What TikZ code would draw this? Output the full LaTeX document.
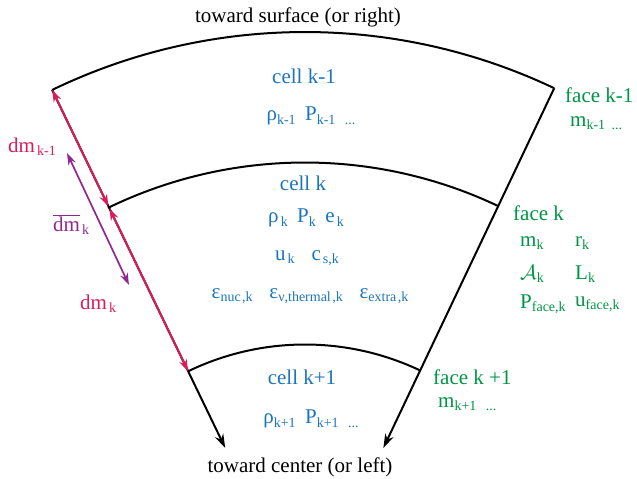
\documentclass[tikz,border=0pt]{standalone}
\usepackage{fontspec}
\setmainfont{Liberation Serif}
\usetikzlibrary{arrows.meta,calc}
\definecolor{cblue}{RGB}{27,117,188}
\definecolor{cgreen}{RGB}{0,148,68}
\definecolor{cpink}{RGB}{218,28,92}
\definecolor{cpurple}{RGB}{146,39,143}
\newcommand\sbx[1]{\raisebox{-0.35ex}{\fontsize{14}{14}\selectfont #1}}
\begin{document}
\begin{tikzpicture}[x=1pt,y=1pt,
  every node/.style={inner sep=0pt,font=\fontsize{21}{24}\selectfont},
  edge/.style={line width=2pt,black},
  blk/.style={text=black},
  blu/.style={text=cblue},
  grn/.style={text=cgreen,anchor=west},
  dmlabel/.style={text=cpink,anchor=west},
  darrow/.style={line width=2pt,cpink,{Stealth[length=12pt,width=8pt]}-{Stealth[length=12pt,width=8pt]}},
  parrow/.style={line width=1.7pt,cpurple,{Stealth[length=12pt,width=8pt]}-{Stealth[length=12pt,width=8pt]}},
  tail/.style={edge,-{Stealth[length=14pt,width=9pt]}}]
\useasboundingbox (0,0) rectangle (637,479);
\coordinate (C) at (305,-134);
\coordinate (L0) at ($(C)+(115.8:581)$);
\coordinate (R0) at ($(C)+(64.6:581)$);
\coordinate (L1) at ($(C)+(115.8:450.5)$);
\coordinate (R1) at ($(C)+(64.6:450.5)$);
\coordinate (L2) at ($(C)+(115.8:268.5)$);
\coordinate (R2) at ($(C)+(64.6:268.5)$);
\coordinate (LE) at ($(C)+(115.8:183.3)$);
\coordinate (RE) at ($(C)+(64.6:182.7)$);
\coordinate (P1) at (67,326);
\coordinate (P2) at (129,194);
% arcs
\draw[edge] (L0) arc[start angle=115.8,end angle=64.6,radius=581];
\draw[edge] (L1) arc[start angle=115.8,end angle=64.6,radius=450.5];
\draw[edge] (L2) arc[start angle=115.8,end angle=64.6,radius=268.5];
% radial lines
\draw[tail] (L0) -- (LE);
\draw[tail] (R0) -- (RE);
% mass arrows
\draw[darrow,shorten >=1pt] (L0) -- (L1);
\draw[darrow,shorten <=1pt] (L1) -- (L2);
\draw[parrow] (P1) -- (P2);
% labels
\node[blk] (top) at (298,462) {toward surface (or right)};
\node[blk] (bot) at (300,12) {toward center (or left)};
\node[blu] (ckm1) at (304,403) {cell k-1};
\node[blu] (rkm1) at (311,363) {ρ\sbx{k-1}\hspace{0.45em}P\sbx{k-1}\hspace{0.45em}\sbx{...}};
\node[blu] (ck) at (303,296) {cell k};
\node[blu] (rk1) at (306,261) {ρ\hspace{0.1em}\sbx{k}\hspace{0.45em}P\sbx{k}\hspace{0.45em}e\hspace{0.1em}\sbx{k}};
\node[blu] (rk2) at (307,221) {u\hspace{0.1em}\sbx{k}\hspace{0.8em}c\hspace{0.1em}\sbx{s,k}};
\node[blu] (rk3) at (310,183) {ε\sbx{nuc\hspace{0.1em},k}\hspace{0.8em}ε\sbx{ν,thermal\hspace{0.1em},k}\hspace{0.8em}ε\sbx{extra\hspace{0.1em},k}};
\node[blu] (ckp1) at (302,102) {cell k+1};
\node[blu] (rkp1) at (311,60) {ρ\sbx{k+1}\hspace{0.45em}P\sbx{k+1}\hspace{0.45em}\sbx{...}};
\node[grn] (fkm1) at (565,384) {face k-1};
\node[grn] (mkm1) at (570,356) {m\sbx{k-1}\hspace{0.3em}\sbx{...}};
\node[grn] (fk) at (513,266) {face k};
\node[grn] (mk) at (520,236) {m\sbx{k}};
\node[grn] (rk) at (575,236) {r\sbx{k}};
\node[grn] (ak) at (520,205) {$\mathcal{A}$\sbx{k}};
\node[grn] (lk) at (575,205) {L\sbx{k}};
\node[grn] (pf) at (520,175) {P\sbx{face,k}};
\node[grn] (uf) at (575,175) {u\sbx{face,k}};
\node[grn] (fkp1) at (433,102) {face k +1};
\node[grn] (mkp1) at (438,75) {m\sbx{k+1}\hspace{0.45em}\sbx{...}};
\node[dmlabel] (dmkm1) at (8,332) {dm\hspace{0.1em}\sbx{k-1}};
\node[anchor=west,text=cpurple] (dmbar) at (53,254) {$\overline{\hbox{dm}}$\hspace{0.1em}\sbx{k}};
\node[dmlabel] (dmk) at (80,175) {dm\hspace{0.1em}\sbx{k}};
\end{tikzpicture}
\end{document}
